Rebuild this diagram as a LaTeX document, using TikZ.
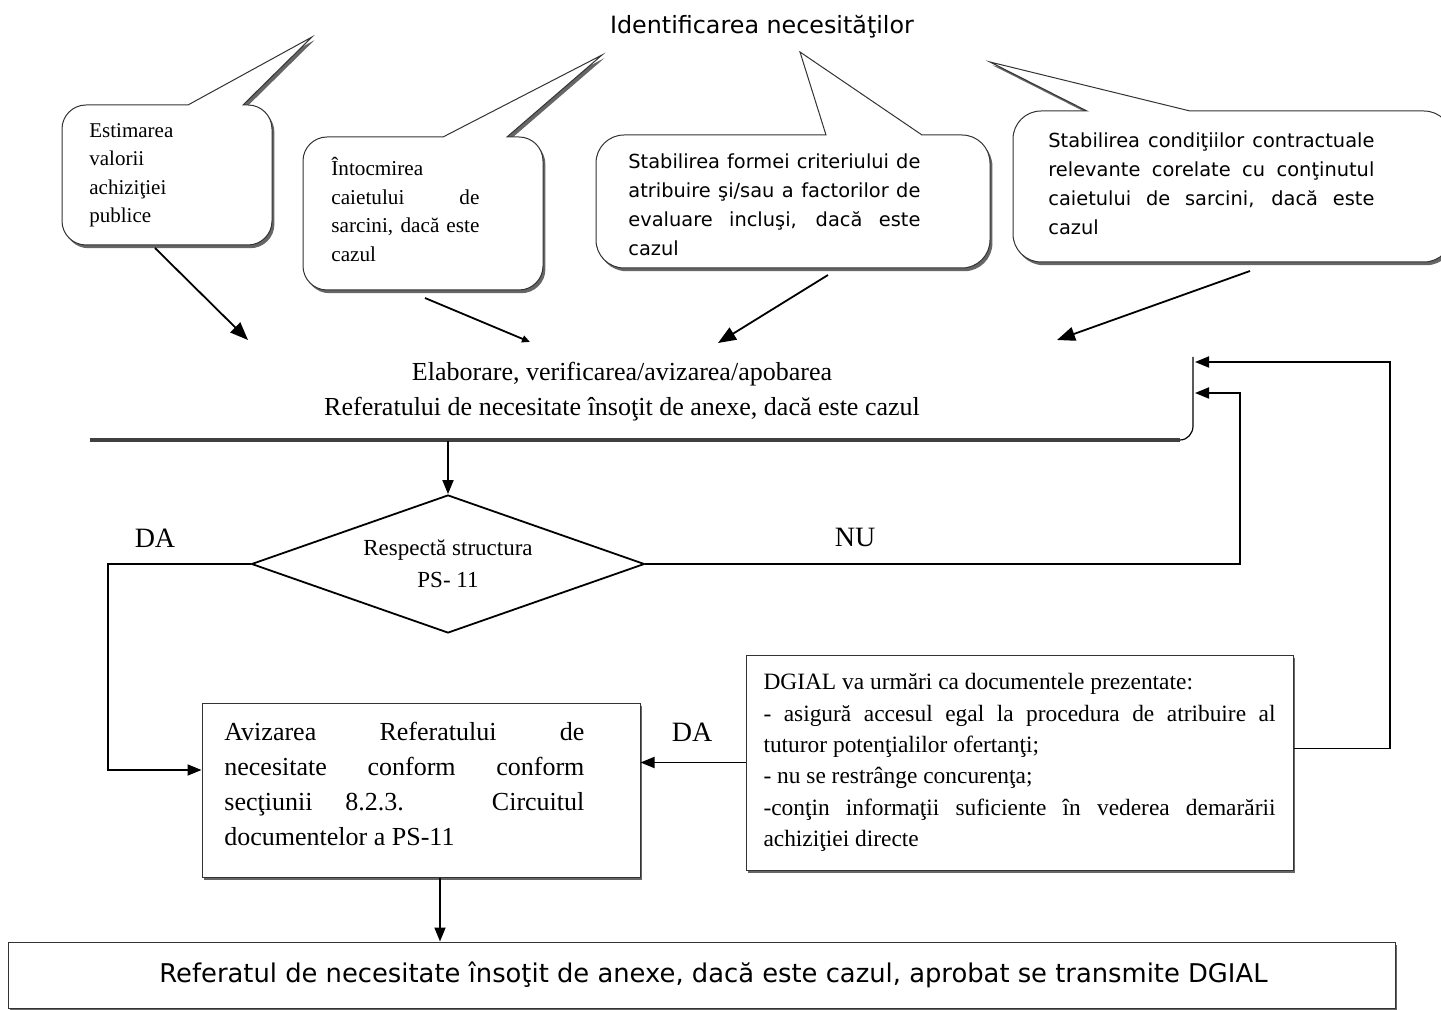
\documentclass[tikz,border=0pt]{standalone}
\usepackage{fontspec}
\setmainfont{Liberation Serif}
\newfontfamily\vsans{DejaVu Sans}
\usetikzlibrary{arrows.meta,shapes.geometric,shadows}
\begin{document}
\begin{tikzpicture}[x=0.5pt,y=-0.5pt,
  outline/.style={draw=black!80, line width=0.5pt, fill=white,
    drop shadow={shadow xshift=1.2pt, shadow yshift=-1.6pt, fill=black!60, opacity=1}},
  boxnode/.style={outline, rectangle, inner sep=0pt},
  calltext/.style={inner sep=0pt, anchor=west, align=justify},
  flow/.style={line width=0.9pt, -{Triangle[length=7pt,width=5.5pt]}},
  plainline/.style={line width=0.9pt},
  feed/.style={line width=0.9pt, -{Triangle[length=9pt,width=7pt]}},
  feedsmall/.style={line width=0.9pt, -{Triangle[length=4pt,width=3.5pt]}},
  lbl/.style={font=\fontsize{14}{16}\selectfont, inner sep=0pt},
]
\useasboundingbox (0,0) rectangle (1441,1010);
\clip (0,0) rectangle (1441,1010);

% title
\node[font=\vsans\fontsize{11.9}{14}\selectfont, inner sep=0pt] (title) at (762,27) {Identificarea necesităţilor};

% callout shapes
\path[outline] (188,105) -- (312,37) -- (243,105) -- (248,105)
  arc[start angle=90,end angle=0,radius=12pt] -- (272,221)
  arc[start angle=0,end angle=-90,radius=12pt] -- (86,245)
  arc[start angle=270,end angle=180,radius=12pt] -- (62,129)
  arc[start angle=180,end angle=90,radius=12pt] -- cycle;
\path[outline] (443,137) -- (602,55) -- (507,137) -- (519,137)
  arc[start angle=90,end angle=0,radius=12pt] -- (543,266)
  arc[start angle=0,end angle=-90,radius=12pt] -- (327,290)
  arc[start angle=270,end angle=180,radius=12pt] -- (303,161)
  arc[start angle=180,end angle=90,radius=12pt] -- cycle;
\path[outline] (826,135) -- (800,52) -- (922,135) -- (962,135)
  arc[start angle=90,end angle=0,radius=14pt] -- (990,240)
  arc[start angle=0,end angle=-90,radius=14pt] -- (624,268)
  arc[start angle=270,end angle=180,radius=14pt] -- (596,163)
  arc[start angle=180,end angle=90,radius=14pt] -- cycle;
\path[outline] (1087,111) -- (990,62) -- (1190,111) -- (1424,111)
  arc[start angle=90,end angle=0,radius=14pt] -- (1452,234)
  arc[start angle=0,end angle=-90,radius=14pt] -- (1041,262)
  arc[start angle=270,end angle=180,radius=14pt] -- (1013,139)
  arc[start angle=180,end angle=90,radius=14pt] -- cycle;

% callout texts
\node[calltext, align=left, text width=46pt, font=\fontsize{10.5}{14.25}\selectfont] (t1) at (89,175.5)
  {Estimarea\\ valorii\\ achiziţiei\\ publice};
\node[calltext, text width=74pt, font=\fontsize{10.6}{14.25}\selectfont] (t2) at (331,209.5)
  {Întocmirea\\ caietului de\linebreak sarcini, dacă este\linebreak cazul};
\node[calltext, text width=146pt, font=\vsans\fontsize{9.7}{14.5}\selectfont] (t3) at (628,204.5)
  {Stabilirea formei criteriului de\linebreak atribuire şi/sau a factorilor de\linebreak evaluare incluşi, dacă este\linebreak cazul};
\node[calltext, text width=163pt, font=\vsans\fontsize{9.7}{14.5}\selectfont] (t4) at (1048,183.5)
  {Stabilirea condiţiilor contractuale\linebreak relevante corelate cu conţinutul\linebreak caietului de sarcini, dacă este\linebreak cazul};

% arrows from callouts
\coordinate (s1) at (155,248);
\coordinate (s2) at (425,298);
\coordinate (s3) at (828,275);
\coordinate (s4) at (1250,271);
\coordinate (e1) at (248,340);
\coordinate (e2) at (530,342);
\coordinate (e3) at (718,343);
\coordinate (e4) at (1057,340);
\draw[feed] (s1) -- (e1);
\draw[feedsmall] (s2) -- (e2);
\draw[feed] (s3) -- (e3);
\draw[feed] (s4) -- (e4);

% elaborare
\node[font=\fontsize{13}{17.5}\selectfont, align=center, inner sep=0pt] (elab) at (622,392)
  {Elaborare, verificarea/avizarea/apobarea\\ Referatului de necesitate însoţit de anexe, dacă este cazul};
\coordinate (elabline) at (448,441);
\draw[line width=1.6pt, black!75] (90,440) -- (1180,440);
\draw[line width=0.6pt] (1180,440) to[out=0,in=-90] (1193,426) -- (1193,357);

% diamond
\node[diamond, draw, line width=0.9pt, shape aspect=2.85, minimum width=196.5pt, minimum height=69pt,
  inner sep=0pt, align=center, font=\fontsize{11.5}{16}\selectfont] (dia) at (448,564)
  {Respectă structura\\ PS- 11};
\draw[flow] (elabline) -- (dia.north);

% boxes
\node[boxnode, minimum width=219pt, minimum height=87pt] (aviz) at (421,790) {};
\node[calltext, text width=180pt, font=\fontsize{13}{17.5}\selectfont] (avizt) at (224,783.5)
  {Avizarea Referatului de\linebreak necesitate conform conform\linebreak secţiunii 8.2.3. Circuitul\linebreak documentelor a PS-11};

\node[boxnode, text width=256pt, inner xsep=8.75pt, minimum height=107.5pt, align=justify,
  font=\fontsize{11.7}{15.7}\selectfont] (dgial) at (1019.5,762.5)
  {DGIAL va urmări ca documentele prezentate:\\
   - asigură accesul egal la procedura de atribuire al\linebreak tuturor potenţialilor ofertanţi;\\
   - nu se restrânge concurenţa;\\
   -conţin informaţii suficiente în vederea demarării\linebreak achiziţiei directe};

\node[boxnode, minimum width=693.5pt, minimum height=33pt, font=\vsans\fontsize{12.9}{15}\selectfont] (bot) at (701.5,975)
  {\hspace*{12pt}Referatul de necesitate însoţit de anexe, dacă este cazul, aprobat se transmite DGIAL};

% connectors
\coordinate (in1) at (1195,362);
\coordinate (in2) at (1195,393);
\coordinate (nuturn) at (1240,393);
\coordinate (rturn) at (1390,362);
\coordinate (lturn) at (108,770);
\coordinate (xdown) at (440,900);

\draw[flow] (dia.east) -| (nuturn) -- (in2);
\draw[flow] ([yshift=7pt]dgial.east) -| (rturn) -- (in1);
\draw[flow] (dia.west) -| (lturn) -- (lturn -| aviz.west);
\draw[flow] (dgial.west) -- (dgial.west -| aviz.east);
\draw[flow] (xdown |- aviz.south) -- (xdown |- bot.north);

% labels
\node[lbl] (da1) at (155,538) {DA};
\node[lbl] (nu) at (855,537) {NU};
\node[lbl] (da2) at (692,732) {DA};
\end{tikzpicture}
\end{document}
